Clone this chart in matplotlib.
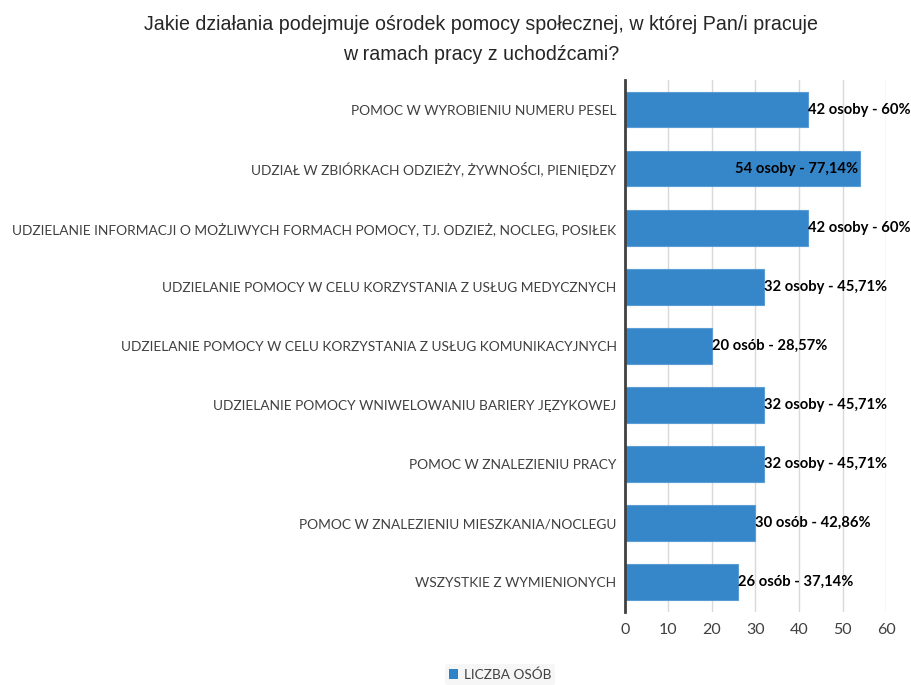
import matplotlib
matplotlib.use("Agg")
import matplotlib.pyplot as plt
from matplotlib.patches import Patch

categories = [
    "POMOC W WYROBIENIU NUMERU PESEL",
    "UDZIAŁ W ZBIÓRKACH ODZIEŻY, ŻYWNOŚCI, PIENIĘDZY",
    "UDZIELANIE INFORMACJI O MOŻLIWYCH FORMACH POMOCY, TJ. ODZIEŻ, NOCLEG, POSIŁEK",
    "UDZIELANIE POMOCY W CELU KORZYSTANIA Z USŁUG MEDYCZNYCH",
    "UDZIELANIE POMOCY W CELU KORZYSTANIA Z USŁUG KOMUNIKACYJNYCH",
    "UDZIELANIE POMOCY WNIWELOWANIU BARIERY JĘZYKOWEJ",
    "POMOC W ZNALEZIENIU PRACY",
    "POMOC W ZNALEZIENIU MIESZKANIA/NOCLEGU",
    "WSZYSTKIE Z WYMIENIONYCH",
]
values = [42, 54, 42, 32, 20, 32, 32, 30, 26]
value_labels = [
    "42 osoby - 60%",
    "54 osoby - 77,14%",
    "42 osoby - 60%",
    "32 osoby - 45,71%",
    "20 osób - 28,57%",
    "32 osoby - 45,71%",
    "32 osoby - 45,71%",
    "30 osób - 42,86%",
    "26 osób - 37,14%",
]
xticks = [0, 10, 20, 30, 40, 50, 60]
title = "Jakie działania podejmuje ośrodek pomocy społecznej, w której Pan/i pracuje\nw ramach pracy z uchodźcami?"
legend_label = "LICZBA OSÓB"

BAR = "#2E82C8"
TXT = "#404040"
LABEL_FONT = ["Lato", "DejaVu Sans"]

fig = plt.figure(figsize=(9.11, 6.85), dpi=100)
ax = fig.add_axes([0.686, 0.107, 0.2866, 0.776])

y = list(range(len(categories)))
ax.barh(y, values, height=0.6, color=BAR, alpha=0.96, edgecolor="#5A9BD5", linewidth=0.8, zorder=3)
ax.set_ylim(len(categories) - 0.5, -0.5)
ax.set_xlim(0, 60)
ax.set_xticks(xticks)
ax.set_xticklabels([str(t) for t in xticks], family=LABEL_FONT, fontsize=11.5, color=TXT)
ax.set_yticks(y)
ax.set_yticklabels(categories, family=LABEL_FONT, fontsize=9.9, color=TXT)
ax.tick_params(axis="both", length=0, pad=6)
ax.tick_params(axis="x", pad=8)
ax.grid(axis="x", color="#D9D9D9", linewidth=1, zorder=0)
for s in ["top", "right", "bottom"]:
    ax.spines[s].set_visible(False)
ax.spines["left"].set_color("#404040")
ax.spines["left"].set_linewidth(2)
ax.spines["left"].set_zorder(4)

for yi, v, lab in zip(y, values, value_labels):
    if v > 50:
        ax.text(v - 0.4, yi, lab, ha="right", va="center", fontsize=10.6,
                fontweight="bold", family=LABEL_FONT, color="black", zorder=5)
    else:
        ax.text(v, yi, lab, ha="left", va="center", fontsize=10.6,
                fontweight="bold", family=LABEL_FONT, color="black", zorder=5, clip_on=False)

fig.text(0.528, 0.942, title, ha="center", va="center", fontsize=14.1,
         family=["Liberation Sans", "DejaVu Sans"], color="#262626", linespacing=1.75)

leg = fig.legend(handles=[Patch(facecolor=BAR, label=legend_label)], loc="center",
                 bbox_to_anchor=(0.549, 0.015), frameon=True,
                 prop={"family": LABEL_FONT, "size": 9.8}, handlelength=0.7, handleheight=0.7,
                 handletextpad=0.4, borderpad=0.3)
leg.get_frame().set_facecolor("#F4F4F4")
leg.get_frame().set_edgecolor("none")
for t in leg.get_texts():
    t.set_color(TXT)

fig.savefig("out.png", dpi=100)
